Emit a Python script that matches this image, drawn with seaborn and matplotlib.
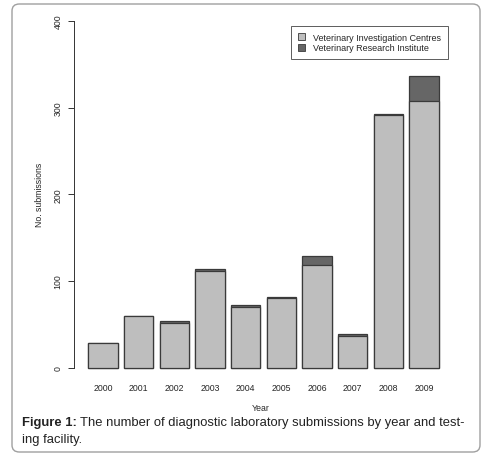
import matplotlib

matplotlib.use("Agg")
import matplotlib.pyplot as plt
from matplotlib.patches import FancyBboxPatch, Patch
import pandas as pd
import seaborn as sns

years = ["2000", "2001", "2002", "2003", "2004", "2005", "2006", "2007", "2008", "2009"]
vic_counts = [28, 60, 52, 111, 70, 80, 119, 37, 291, 308]
vri_counts = [0, 0, 2, 3, 2, 2, 10, 2, 2, 28]
y_ticks = [0, 100, 200, 300, 400]

LIGHT = "#bebebe"
DARK = "#666666"
EDGE = "#3a3a3a"

df = pd.DataFrame({"year": years, "vic": vic_counts, "vri": vri_counts})
df["total"] = df["vic"] + df["vri"]

sns.set_theme(style="white")
plt.rcParams["font.family"] = ["Liberation Sans", "DejaVu Sans"]

fig = plt.figure(figsize=(4.9, 4.64), dpi=100)
ax = fig.add_axes([74 / 490, (464 - 368.7) / 464, (448 - 74) / 490, (368.7 - 22) / 464])

# stacked bars: total in dark, investigation centres on top in light
sns.barplot(data=df, x="year", y="total", color=DARK, saturation=1, width=0.82,
            edgecolor=EDGE, linewidth=0.9, ax=ax)
sns.barplot(data=df, x="year", y="vic", color=LIGHT, saturation=1, width=0.82,
            edgecolor=EDGE, linewidth=0.9, ax=ax)
for bar in ax.patches:
    bar.set_clip_on(False)

ax.set_xlim(-0.81, 9.67)
ax.set_ylim(0, 400)
ax.set_yticks(y_ticks)
ax.set_yticklabels([str(t) for t in y_ticks], rotation=90, va="center", fontsize=6.3)
ax.tick_params(axis="y", direction="out", length=4.3, width=0.7, color="#333333", pad=4,
               left=True)
ax.tick_params(axis="x", length=0, pad=11, labelsize=6.3)
for side in ["top", "right", "bottom"]:
    ax.spines[side].set_visible(False)
ax.spines["left"].set_color("#333333")
ax.spines["left"].set_linewidth(0.7)
ax.spines["left"].set_bounds(0, 400)
ax.set_xlabel("Year", fontsize=6.3, labelpad=8)
ax.set_ylabel("No. submissions", fontsize=6.3, labelpad=7)

handles = [Patch(facecolor=LIGHT, edgecolor=EDGE, linewidth=0.6),
           Patch(facecolor=DARK, edgecolor=EDGE, linewidth=0.6)]
leg = ax.legend(handles, ["Veterinary Investigation Centres", "Veterinary Research Institute"],
                loc="upper right", bbox_to_anchor=(1.0, 0.985), borderaxespad=0,
                fontsize=6.5, frameon=True, fancybox=False, handlelength=0.8,
                handleheight=0.8, handletextpad=0.9, borderpad=0.75, labelspacing=0.15)
leg.get_frame().set_edgecolor("#333333")
leg.get_frame().set_linewidth(0.7)

# caption: bold label, then the rest placed right after it
cap_size = 9.35
cap_x = 22 / 490
bold = fig.text(cap_x, 1 - 423 / 464, "Figure 1:", fontsize=cap_size, fontweight="bold",
                va="center", color="#222222")
renderer = fig.canvas.get_renderer()
bold_right = fig.transFigure.inverted().transform(
    (bold.get_window_extent(renderer).x1, 0))[0]
fig.text(bold_right + 3 / 490, 1 - 423 / 464,
         "The number of diagnostic laboratory submissions by year and test-",
         fontsize=cap_size, va="center", color="#222222")
fig.text(cap_x, 1 - 440 / 464, "ing facility.", fontsize=cap_size, va="center",
         color="#222222")

border = FancyBboxPatch((12 / 490, 1 - 453 / 464), (480 - 12) / 490, (453 - 5) / 464,
                        boxstyle="round,pad=0,rounding_size=0.015", transform=fig.transFigure,
                        facecolor="none", edgecolor="#a0a0a0", linewidth=1.0)
fig.patches.append(border)

fig.savefig("out.png", dpi=100)
